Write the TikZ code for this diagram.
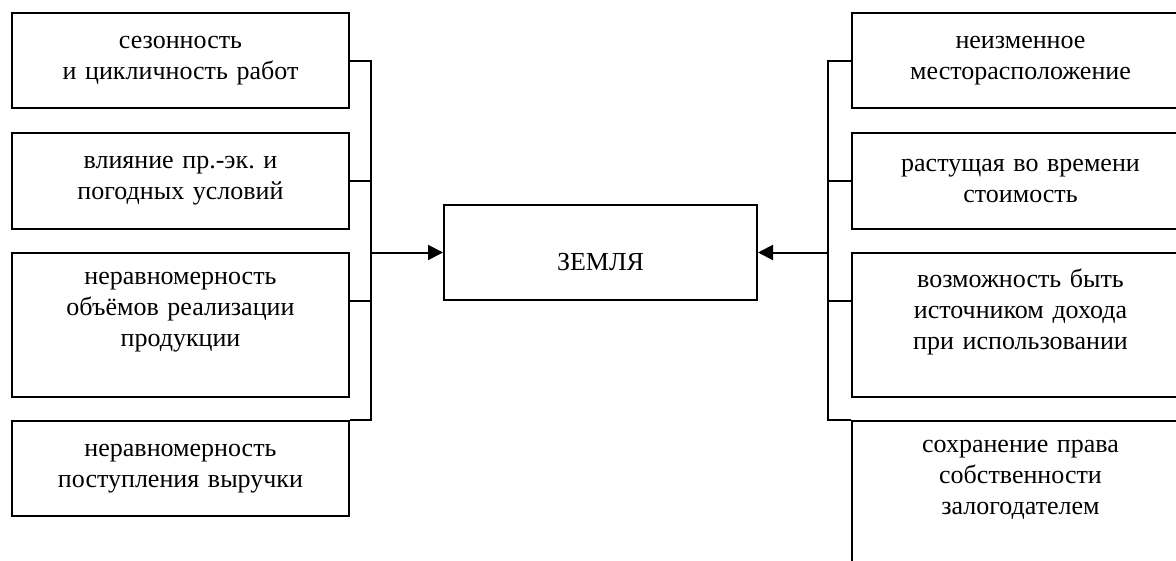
\documentclass[tikz,border=0pt]{standalone}
\usepackage{fontspec}
\setmainfont{Liberation Serif}
\frenchspacing
\usetikzlibrary{positioning,arrows.meta}

\tikzset{
  box/.style={draw, line width=2pt, rectangle, inner sep=0pt, minimum width=337pt,
    text width=330pt, align=center, font=\fontsize{26}{31}\selectfont},
  hub/.style={box, minimum width=313pt, text width=300pt, minimum height=95pt},
  bus/.style={line width=2pt},
  feed/.style={line width=2pt, -{Triangle[length=15pt,width=15pt]}}
}

\begin{document}
\begin{tikzpicture}[x=1pt,y=-1pt,node distance=22pt]
    \clip (0,0) rectangle (1176,560);

    % left column
    \node[box, minimum height=95pt, anchor=north west] (l1) at (11,12) {сезонность\\и цикличность работ};
    \node[box, minimum height=96pt, below=23pt of l1] (l2) {влияние пр.-эк. и\\погодных условий};
    \node[box, minimum height=144pt, below=of l2] (l3) {неравномерность\\объёмов реализации\\продукции\\~};
    \node[box, minimum height=95pt, below=of l3] (l4) {неравномерность\\поступления выручки};

    % right column
    \node[box, minimum height=95pt, anchor=north west] (r1) at (851,12) {неизменное\\месторасположение};
    \node[box, minimum height=96pt, below=23pt of r1] (r2) {растущая во времени\\стоимость};
    \node[box, minimum height=144pt, below=of r2] (r3) {возможность быть\\источником дохода\\при использовании\\~};
    \node[box, minimum height=144pt, below=of r3] (r4) {сохранение права\\собственности\\залогодателем\\~};

    % centre
    \node[hub, anchor=north west] (zem) at (443,204) {\raisebox{-10pt}[\height][\depth]{ЗЕМЛЯ}};

    \coordinate (lbus) at (371,0);
    \coordinate (rbus) at (828,0);
    \coordinate (l3tap) at ([yshift=24pt]l3.east);
    \coordinate (r3tap) at ([yshift=24pt]r3.west);

    \draw[bus] (l1.east) -| (lbus |- l4.north) -- (l4.north east);
    \draw[bus] (l2.east) -- (lbus |- l2.east);
    \draw[bus] (l3tap) -- (lbus |- l3tap);
    \draw[feed] (lbus |- zem.west) -- (zem.west);

    \draw[bus] (r1.west) -| (rbus |- r4.north) -- (r4.north west);
    \draw[bus] (r2.west) -- (rbus |- r2.west);
    \draw[bus] (r3tap) -- (rbus |- r3tap);
    \draw[feed] (rbus |- zem.east) -- (zem.east);
\end{tikzpicture}
\end{document}
